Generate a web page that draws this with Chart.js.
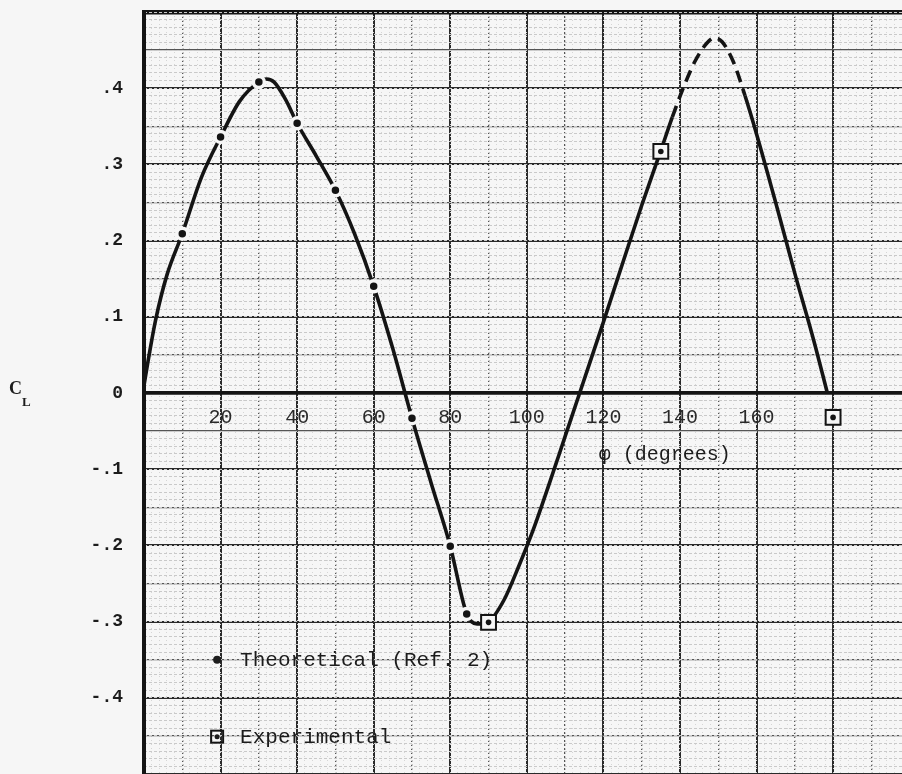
<!DOCTYPE html>
<html>
<head>
<meta charset="utf-8">
<title>Lift coefficient vs phi</title>
<script src="https://cdn.jsdelivr.net/npm/chart.js@4.4.0/dist/chart.umd.min.js"></script>
<style>
html, body { margin: 0; padding: 0; background: #f6f6f6; }
#wrap { position: relative; width: 902px; height: 774px; }
</style>
</head>
<body>
<div id="wrap"><canvas id="clChart"></canvas></div>
<script>
//theoretical curve (Ref. 2), phi in degrees
var theoryPhi = [0, 1, 3, 6, 10, 15, 20, 25, 30, 32, 34, 37, 40, 45, 50, 55, 60, 65, 70, 75, 80, 84.3, 87, 90, 94, 98, 102, 106, 110, 114, 120, 125, 130, 135, 138, 141, 144, 147, 149, 151, 154, 157, 160, 165, 170, 175, 178.5];
var theoryCL = [0.01, 0.04, 0.095, 0.155, 0.209, 0.283, 0.336, 0.383, 0.408, 0.412, 0.408, 0.385, 0.354, 0.311, 0.266, 0.209, 0.140, 0.058, -0.033, -0.118, -0.201, -0.290, -0.303, -0.300, -0.272, -0.226, -0.175, -0.117, -0.057, 0.003, 0.093, 0.170, 0.246, 0.318, 0.362, 0.402, 0.436, 0.459, 0.466, 0.461, 0.434, 0.39, 0.34, 0.25, 0.157, 0.068, 0.0];
//dots marked on the theoretical curve
var dotPhi = [10, 20, 30, 40, 50, 60, 70, 80, 84.3];
var dotCL = [0.209, 0.336, 0.408, 0.354, 0.266, 0.140, -0.033, -0.201, -0.290];
//experimental points
var expPhi = [90, 135, 180];
var expCL = [-0.301, 0.317, -0.032];

//tick labels
var xTickValues = [20, 40, 60, 80, 100, 120, 140, 160];
var yTickValues = [0.4, 0.3, 0.2, 0.1, 0, -0.1, -0.2, -0.3, -0.4];
var yTickText = ['.4', '.3', '.2', '.1', '0', '-.1', '-.2', '-.3', '-.4'];

//part of the theoretical curve that is drawn dashed
var dashFrom = 136;
var dashTo = 158;

var paper = '#f6f6f6';
var ink = '#141414';

function toPoints(xs, ys) {
	var pts = [];
	for (var i = 0; i < xs.length; i++) {
		pts.push({x: xs[i], y: ys[i]});
	}
	return pts;
}

function hundredths(v) {
	return Math.round(v * 100);
}

//writes C_L, the axis name and the legend onto the graph paper
var paperNotes = {
	id: 'paperNotes',
	afterDatasetsDraw: function(chart) {
		var ctx = chart.ctx;
		var xs = chart.scales.x;
		var ys = chart.scales.y;
		var zero = ys.getPixelForValue(0);
		ctx.save();
		ctx.fillStyle = '#1c1c1c';
		ctx.textBaseline = 'middle';
		ctx.textAlign = 'left';

		ctx.font = 'bold 18px "Liberation Serif"';
		ctx.fillText('C', 9, zero - 4);
		ctx.font = 'bold 13px "Liberation Serif"';
		ctx.fillText('L', 22, zero + 10);

		ctx.font = '20px "Liberation Mono"';
		ctx.fillText('\u03c6 (degrees)', xs.getPixelForValue(118.8), ys.getPixelForValue(-0.081));

		//legend
		var px = xs.getPixelForValue(19.1);
		var py = ys.getPixelForValue(-0.35);
		ctx.beginPath();
		ctx.arc(px, py, 4, 0, Math.PI * 2);
		ctx.fill();
		ctx.font = '21px "Liberation Mono"';
		ctx.fillText('Theoretical (Ref. 2)', px + 23, py + 1);

		py = ys.getPixelForValue(-0.451);
		ctx.lineWidth = 2;
		ctx.strokeStyle = ink;
		ctx.strokeRect(px - 6, py - 6, 12, 12);
		ctx.beginPath();
		ctx.arc(px, py, 2.5, 0, Math.PI * 2);
		ctx.fill();
		ctx.fillText('Experimental', px + 23, py + 1);
		ctx.restore();
	}
};

var ctx = document.getElementById('clChart');

var myChart = new Chart(ctx, {
	type: 'scatter',
	data: {
		datasets: [
			{
				label: 'Theoretical points',
				data: toPoints(dotPhi, dotCL),
				pointRadius: 5.5,
				pointBorderWidth: 3.5,
				pointBackgroundColor: ink,
				pointBorderColor: paper
			},
			{
				label: 'Experimental centre',
				data: toPoints(expPhi, expCL),
				pointRadius: 2.8,
				pointBorderWidth: 0,
				pointBackgroundColor: ink
			},
			{
				label: 'Experimental',
				data: toPoints(expPhi, expCL),
				pointStyle: 'rect',
				pointRadius: 10.5,
				pointBorderWidth: 2,
				pointBorderColor: ink,
				pointBackgroundColor: paper
			},
			{
				label: 'Theoretical (Ref. 2)',
				data: toPoints(theoryPhi, theoryCL),
				showLine: true,
				pointRadius: 0,
				borderColor: ink,
				borderWidth: 3.6,
				cubicInterpolationMode: 'monotone',
				segment: {
					borderDash: function(c) {
						if (c.p0.parsed.x >= dashFrom && c.p1.parsed.x <= dashTo) {
							return [12, 7];
						}
						return undefined;
					}
				}
			}
		]
	},
	options: {
		responsive: true,
		maintainAspectRatio: false,
		animation: false,
		events: [],
		layout: {
			autoPadding: false,
			padding: {top: 12, right: 0, bottom: 0, left: 0}
		},
		plugins: {
			legend: {display: false},
			tooltip: {enabled: false}
		},
		scales: {
			x: {
				type: 'linear',
				position: {y: 0},
				min: 0,
				max: 198,
				afterFit: function(s) { s.paddingLeft = 0; s.paddingRight = 0; },
				ticks: {
					stepSize: 10,
					autoSkip: false,
					maxRotation: 0,
					includeBounds: false,
					padding: 13,
					color: '#2a2a2a',
					font: {family: 'Liberation Mono', size: 20},
					callback: function(v) {
						return xTickValues.indexOf(Math.round(v)) >= 0 ? String(Math.round(v)) : '';
					}
				},
				grid: {
					drawTicks: false,
					color: function(c) {
						var v = Math.round(c.tick.value);
						if (v === 0) return 'rgba(0,0,0,0)';
						return v % 20 === 0 ? '#2a2a2a' : '#555555';
					},
					lineWidth: function(c) {
						return Math.round(c.tick.value) % 20 === 0 ? 2 : 1.3;
					}
				},
				border: {
					display: true,
					width: 3.5,
					color: ink,
					dash: function(c) {
						if (!c.tick) return [];
						return Math.round(c.tick.value) % 20 === 0 ? [] : [2, 2];
					}
				}
			},
			xFine: {
				type: 'linear',
				position: {y: 0},
				min: 0,
				max: 198,
				afterFit: function(s) { s.paddingLeft = 0; s.paddingRight = 0; },
				ticks: {display: false, stepSize: 2, maxTicksLimit: 1000, includeBounds: false},
				grid: {drawTicks: false, color: '#d6d6d6', lineWidth: 1},
				border: {display: false, dash: [1, 3]}
			},
			y: {
				type: 'linear',
				position: 'left',
				min: -0.5,
				max: 0.5,
				afterFit: function(s) {
					s.width = 144;
					s.paddingTop = 0;
					s.paddingBottom = 0;
				},
				ticks: {
					stepSize: 0.05,
					autoSkip: false,
					padding: 21,
					color: '#1c1c1c',
					font: {family: 'Liberation Mono', size: 18, weight: 'bold'},
					callback: function(v) {
						for (var i = 0; i < yTickValues.length; i++) {
							if (hundredths(yTickValues[i]) === hundredths(v)) return yTickText[i];
						}
						return '';
					}
				},
				grid: {
					drawTicks: false,
					color: function(c) {
						var h = hundredths(c.tick.value);
						if (h === 0 || h === 50) return ink;
						return h % 10 === 0 ? '#2a2a2a' : '#555555';
					},
					lineWidth: function(c) {
						var h = hundredths(c.tick.value);
						if (h === 50) return 4.5;
						if (h === 0) return 3.5;
						return h % 10 === 0 ? 2 : 1.3;
					}
				},
				border: {display: true, width: 4, color: ink}
			},
			yFine: {
				type: 'linear',
				position: 'left',
				min: -0.5,
				max: 0.5,
				afterFit: function(s) { s.width = 0; s.paddingTop = 0; s.paddingBottom = 0; },
				ticks: {display: false, stepSize: 0.01, maxTicksLimit: 1000},
				grid: {drawTicks: false, color: '#c9c9c9', lineWidth: 1},
				border: {display: false, dash: [3, 2]}
			}
		}
	},
	plugins: [paperNotes]
});
</script>
</body>
</html>
